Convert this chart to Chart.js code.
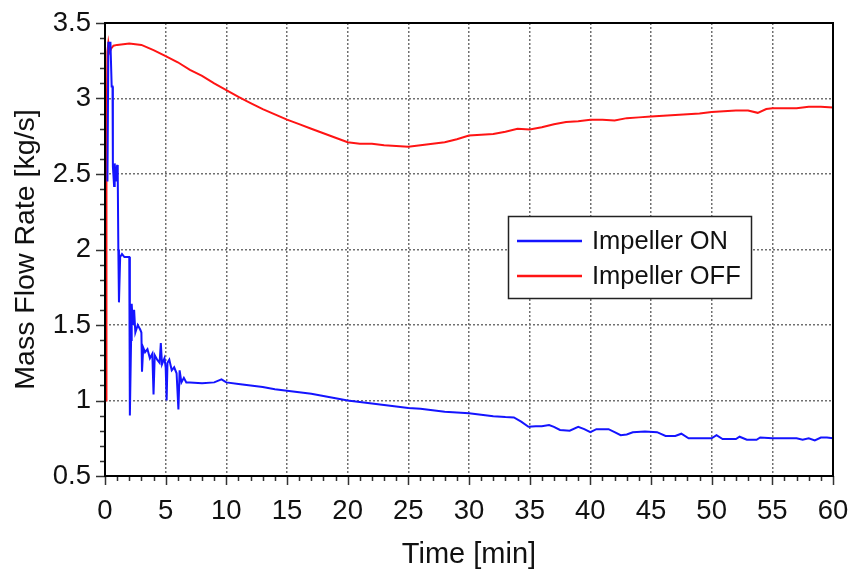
<!DOCTYPE html>
<html>
<head>
<meta charset="utf-8">
<script src="https://cdn.jsdelivr.net/npm/chart.js@4/dist/chart.umd.min.js"></script>
<style>
html,body{margin:0;padding:0;background:#fff;}
canvas{display:block;}
</style>
</head>
<body>
<canvas id="c" width="853" height="572"></canvas>
<script>
// ---- Data ----
const onTime = [0.2,0.28,0.45,0.55,0.62,0.65,0.75,0.8,0.9,1.0,1.05,1.1,1.15,1.2,1.25,1.4,1.6,2.0,2.05,2.15,2.2,2.3,2.4,2.5,2.7,2.9,3.0,3.05,3.15,3.3,3.5,3.7,3.9,4.0,4.1,4.3,4.5,4.6,4.7,4.9,5.0,5.08,5.15,5.3,5.5,5.7,5.9,6.05,6.15,6.3,6.5,6.7,7.0,8.0,9.0,9.6,10.0,11.0,12.0,13.0,14.0,15.0,16.0,17.0,18.0,19.0,20.0,21.0,22.0,23.0,24.0,25.0,26.0,27.0,28.0,29.0,30.0,31.0,32.0,33.0,33.7,34.3,34.9,35.5,36.0,36.6,37.0,37.5,38.3,39.0,39.5,40.0,40.5,41.5,42.0,42.5,43.0,43.5,44.5,45.5,46.2,47.0,47.5,48.1,49.0,50.0,50.4,50.9,52.0,52.3,52.9,53.7,54.0,55.0,56.0,57.0,57.5,58.0,58.5,59.0,59.5,60.0];
const onFlow = [2.45,3.37,3.37,3.08,3.08,2.55,2.42,2.57,2.45,2.56,2.5,2.0,1.65,1.8,1.95,1.97,1.95,1.95,0.9,1.4,1.64,1.5,1.6,1.45,1.5,1.47,1.45,1.19,1.35,1.32,1.34,1.28,1.31,1.04,1.3,1.27,1.25,1.38,1.24,1.28,1.22,1.0,1.25,1.27,1.2,1.22,1.18,0.94,1.2,1.12,1.15,1.12,1.12,1.115,1.12,1.14,1.12,1.11,1.1,1.09,1.075,1.065,1.055,1.045,1.03,1.015,1.0,0.99,0.98,0.97,0.96,0.95,0.945,0.935,0.925,0.92,0.915,0.905,0.895,0.89,0.888,0.86,0.826,0.83,0.83,0.838,0.825,0.805,0.8,0.826,0.81,0.79,0.81,0.81,0.79,0.77,0.775,0.79,0.795,0.79,0.765,0.765,0.78,0.75,0.75,0.75,0.77,0.745,0.745,0.76,0.74,0.74,0.755,0.75,0.75,0.75,0.74,0.75,0.735,0.755,0.755,0.75];

const offTime = [0.1,0.12,0.2,0.28,0.4,0.5,0.7,1.0,1.5,2.0,2.5,3.0,4.0,5.0,6.0,7.0,8.0,9.0,10.0,11.0,12.0,13.0,14.0,15.0,16.0,17.0,18.0,19.0,20.0,21.0,22.0,23.0,24.0,25.0,26.0,27.0,28.0,29.0,30.0,31.0,32.0,33.0,34.0,35.0,36.0,37.0,38.0,39.0,40.0,41.0,42.0,43.0,44.0,45.0,46.0,47.0,48.0,49.0,50.0,51.0,52.0,53.0,53.8,54.5,55.0,56.0,57.0,58.0,59.0,60.0];
const offFlow = [1.0,2.7,3.31,3.37,3.31,3.33,3.35,3.355,3.36,3.365,3.36,3.355,3.32,3.28,3.24,3.19,3.15,3.1,3.056,3.01,2.97,2.93,2.895,2.86,2.83,2.8,2.77,2.74,2.71,2.7,2.7,2.69,2.685,2.68,2.69,2.7,2.71,2.73,2.755,2.76,2.765,2.78,2.8,2.795,2.81,2.83,2.845,2.85,2.86,2.86,2.855,2.87,2.875,2.88,2.885,2.89,2.895,2.9,2.91,2.915,2.92,2.92,2.905,2.93,2.935,2.935,2.935,2.945,2.945,2.94];

const seriesLabels = ['Impeller ON', 'Impeller OFF'];
const xTitle = 'Time [min]';
const yTitle = 'Mass Flow Rate [kg/s]';

const FONT = "'Liberation Sans', Arial, sans-serif";
const toPts = (xs, ys) => xs.map((x, i) => ({x: x, y: ys[i]}));

// Minor/major tick marks outside the axes + frame box
const frameTicks = {
  id: 'frameTicks',
  afterDraw(chart) {
    const {ctx, chartArea: a, scales: {x, y}} = chart;
    ctx.save();
    ctx.strokeStyle = '#333';
    ctx.lineWidth = 1.5;
    ctx.beginPath();
    for (let t = 0; t <= 60; t += 1) {
      const px = Math.round(x.getPixelForValue(t)) + 0.5;
      const len = (t % 5 === 0) ? 9 : 5;
      ctx.moveTo(px, a.bottom);
      ctx.lineTo(px, a.bottom + len);
    }
    for (let k = 5; k <= 35; k += 1) {
      const v = k / 10;
      const py = Math.round(y.getPixelForValue(v)) + 0.5;
      const len = (k % 5 === 0) ? 9 : 5;
      ctx.moveTo(a.left, py);
      ctx.lineTo(a.left - len, py);
    }
    ctx.stroke();
    ctx.strokeStyle = '#000';
    ctx.lineWidth = 2;
    ctx.strokeRect(a.left, a.top, a.right - a.left, a.bottom - a.top);
    ctx.restore();
  }
};

// Boxed legend inside the plot area
const boxLegend = {
  id: 'boxLegend',
  afterDatasetsDraw(chart) {
    const {ctx} = chart;
    const bx = 508, by = 216, bw = 243, bh = 82;
    ctx.save();
    ctx.fillStyle = '#fff';
    ctx.fillRect(bx, by, bw, bh);
    ctx.strokeStyle = '#222';
    ctx.lineWidth = 1.5;
    ctx.strokeRect(bx + 0.5, by + 0.5, bw, bh);
    ctx.font = '25.5px ' + FONT;
    ctx.textBaseline = 'middle';
    ctx.fillStyle = '#111';
    chart.data.datasets.forEach((ds, i) => {
      const ly = by + 25 + i * 35;
      ctx.strokeStyle = ds.borderColor;
      ctx.lineWidth = 2.5;
      ctx.beginPath();
      ctx.moveTo(517, ly);
      ctx.lineTo(582, ly);
      ctx.stroke();
      ctx.fillText(ds.label, 592, ly + 1);
    });
    ctx.restore();
  }
};

new Chart(document.getElementById('c'), {
  type: 'line',
  data: {
    datasets: [
      {label: seriesLabels[0], data: toPts(onTime, onFlow), borderColor: 'rgb(20,20,255)', borderWidth: 2, pointRadius: 0, tension: 0, fill: false},
      {label: seriesLabels[1], data: toPts(offTime, offFlow), borderColor: 'rgb(255,20,20)', borderWidth: 2, pointRadius: 0, tension: 0, fill: false}
    ]
  },
  options: {
    responsive: false,
    animation: false,
    devicePixelRatio: 1,
    layout: {padding: {left: 0, right: 20, top: 23, bottom: 0}},
    plugins: {legend: {display: false}, tooltip: {enabled: false}},
    scales: {
      x: {
        type: 'linear', min: 0, max: 60,
        afterFit(s) { s.height = 96; s.paddingLeft = 0; s.paddingRight = 0; },
        ticks: {stepSize: 5, color: '#111', font: {family: FONT, size: 27.5}, padding: 19, maxRotation: 0},
        grid: {color: '#707070', lineWidth: 1.5, drawTicks: false},
        border: {display: false, dash: [2, 2]},
        title: {display: true, text: xTitle, color: '#111', font: {family: FONT, size: 29}, padding: {top: 0, bottom: 0}}
      },
      y: {
        min: 0.5, max: 3.5,
        afterFit(s) { s.width = 105; s.paddingTop = 0; s.paddingBottom = 0; },
        ticks: {stepSize: 0.5, color: '#111', font: {family: FONT, size: 27.5}, padding: 14,
                callback: (v) => String(Math.round(v * 10) / 10)},
        grid: {color: '#707070', lineWidth: 1.5, drawTicks: false},
        border: {display: false, dash: [2, 2]},
        title: {display: true, text: yTitle, color: '#111', font: {family: FONT, size: 28.5}, padding: {top: 9, bottom: 0}}
      }
    }
  },
  plugins: [frameTicks, boxLegend]
});
</script>
</body>
</html>
